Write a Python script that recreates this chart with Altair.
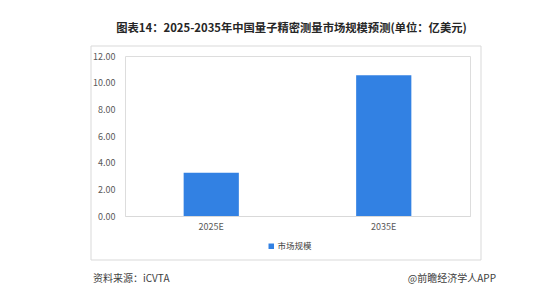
import altair as alt
import pandas as pd

years = ["2025E", "2035E"]
values = [3.24, 10.56]
series = ["市场规模", "市场规模"]
y_ticks = [0, 2, 4, 6, 8, 10, 12]

title_text = "图表14：2025-2035年中国量子精密测量市场规模预测(单位：亿美元)"
source_text = "资料来源：iCVTA"
brand_text = "@前瞻经济学人APP"

df = pd.DataFrame({"year": years, "value": values, "series": series})

FONT = "Noto Sans CJK SC"

frame = alt.Chart(pd.DataFrame({"a": [0]})).mark_rect(
    fill=None, stroke="#d9d9d9", strokeWidth=1
).encode(
    x=alt.value(-34), x2=alt.value(356), y=alt.value(-10), y2=alt.value(204)
)

bars = alt.Chart(df).mark_bar(color="#3281e3").encode(
    x=alt.X("year:N", sort=years, title=None,
            scale=alt.Scale(paddingInner=0.68, paddingOuter=0.34),
            axis=alt.Axis(labelAngle=0, ticks=False, domainColor="#d9d9d9",
                          labelColor="#595959", labelFontSize=9, labelPadding=6,
                          labelFont=FONT)),
    y=alt.Y("value:Q", title=None,
            scale=alt.Scale(domain=[0, 12], nice=False),
            axis=alt.Axis(values=y_ticks, format=".2f", grid=False, domain=False,
                          ticks=False, labelColor="#595959", labelFontSize=9,
                          labelPadding=10, labelFont=FONT)),
    color=alt.Color("series:N", scale=alt.Scale(range=["#3281e3"]),
                    legend=alt.Legend(title=None, orient="none", legendX=142,
                                      legendY=186, symbolType="square",
                                      symbolSize=30, labelFontSize=8.5,
                                      labelOffset=2,
                                      labelColor="#404040", labelFont=FONT,
                                      symbolStrokeWidth=0)),
)

def text_layer(txt, x, y, size, weight="normal", align="center", color="#333333"):
    return alt.Chart(pd.DataFrame({"t": [txt]})).mark_text(
        font=FONT, fontSize=size, fontWeight=weight, align=align,
        baseline="middle", color=color
    ).encode(text="t:N", x=alt.value(x), y=alt.value(y))

title = text_layer(title_text, 166.5, -27, 11.3, weight="bold", color="#262626")
source = text_layer(source_text, -32, 223, 10, align="left", color="#404040")
brand = text_layer(brand_text, 371, 223, 10, align="right", color="#404040")

chart = alt.layer(frame, bars, title, source, brand).properties(
    width=345, height=160,
    autosize=alt.AutoSizeParams(type="none"),
    padding={"left": 125, "top": 56, "right": 90, "bottom": 84},
).configure_view(stroke=None).configure(background="white")

chart.save("out.html", embed_options={"renderer": "svg", "actions": False})
